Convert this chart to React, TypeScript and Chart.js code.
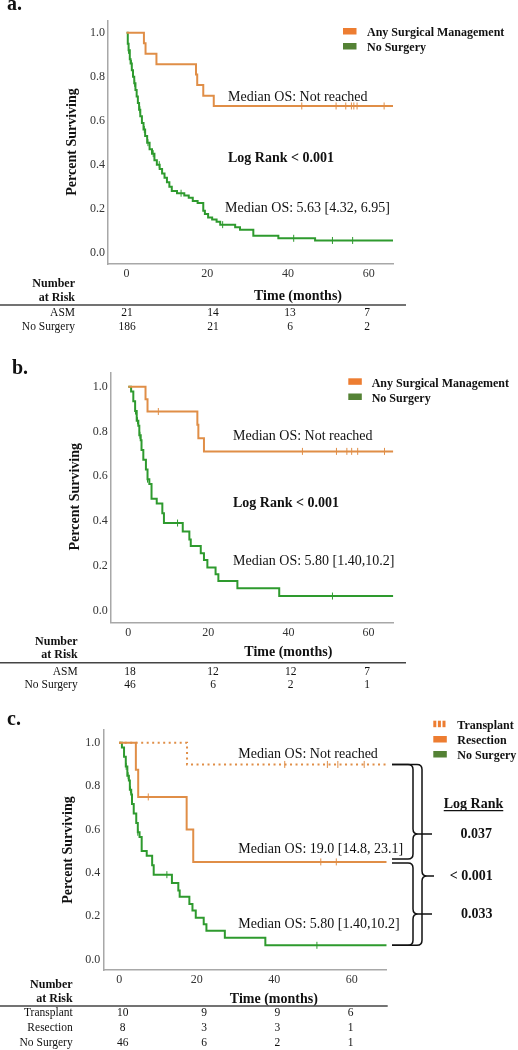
import React, { useEffect, useRef } from 'react';
import { Chart, registerables } from 'chart.js';

Chart.register(...registerables);

const FONT = "'Liberation Serif', 'Times New Roman', Times, serif";
const ORANGE_LINE = '#E08E47';
const GREEN_LINE = '#2E9A2E';
const ORANGE_KEY = '#ED7D31';
const GREEN_KEY = '#548235';
const AXIS_COLOR = '#a8a8a8';

// ---------- shared ticks ----------
const xTickValues = [0, 20, 40, 60];
const yTickValues = [0, 0.2, 0.4, 0.6, 0.8, 1.0];

// ---------- panel a ----------
const aAsmTimes = [0, 4.3, 4.7, 7.4, 17.2, 17.5, 19.0, 21.6, 66];
const aAsmSurv = [1, 0.952, 0.905, 0.857, 0.81, 0.762, 0.714, 0.667, 0.667];
const aAsmCensor = [43.4, 51.9, 54.3, 55.7, 56.3, 57.1, 63.8];

const aNoSurgTimes = [0, 0.3, 0.5, 0.8, 1.0, 1.3, 1.6, 1.9, 2.2, 2.5, 2.8, 3.1, 3.4, 3.8, 4.2, 4.6, 5.1, 5.7, 6.3, 6.9, 7.5, 8.2, 8.8, 9.4, 10.0, 10.6, 11.2, 12.5, 14.3, 15.4, 16.4, 17.6, 19.0, 19.4, 20.2, 21.2, 22.3, 23.2, 26.9, 28.1, 31.4, 37.6, 46.7, 66];
const aNoSurgSurv = [1, 0.95, 0.92, 0.88, 0.86, 0.83, 0.8, 0.77, 0.74, 0.71, 0.68, 0.65, 0.62, 0.59, 0.56, 0.53, 0.5, 0.47, 0.45, 0.42, 0.4, 0.38, 0.36, 0.34, 0.32, 0.3, 0.28, 0.27, 0.26, 0.25, 0.235, 0.225, 0.19, 0.175, 0.16, 0.15, 0.14, 0.127, 0.115, 0.104, 0.076, 0.065, 0.055, 0.055];
const aNoSurgCensor = [0.5, 1.2, 2.0, 3.3, 4.4, 5.3, 6.6, 8.1, 13.5, 23.8, 41.4, 51, 56];

const aRiskAsm = [21, 14, 13, 7];
const aRiskNoSurg = [186, 21, 6, 2];

// ---------- panel b ----------
const bAsmTimes = [0, 4.3, 4.8, 17.25, 17.5, 18.9, 66.2];
const bAsmSurv = [1, 0.944, 0.889, 0.83, 0.77, 0.711, 0.711];
const bAsmCensor = [7.5, 43.5, 52, 54.6, 55.8, 57.3, 64];

const noSurgTimes = [0, 0.7, 1.25, 1.7, 2.1, 2.5, 2.75, 3.1, 3.3, 3.75, 4.4, 4.8, 5.25, 5.8, 7.1, 8.5, 8.9, 13.6, 15.25, 15.6, 18.1, 18.9, 19.75, 21.8, 22.5, 27.25, 37.7];
const noSurgSurv = [1, 0.978, 0.935, 0.891, 0.848, 0.826, 0.783, 0.761, 0.717, 0.674, 0.63, 0.587, 0.565, 0.5, 0.478, 0.435, 0.391, 0.353, 0.318, 0.289, 0.256, 0.226, 0.192, 0.162, 0.132, 0.1, 0.065];
const noSurgCensor = [1.8, 2.3, 2.9, 4.8, 12.3, 51];

const bRiskAsm = [18, 12, 12, 7];
const bRiskNoSurg = [46, 6, 2, 1];

// ---------- panel c ----------
const cTransTimes = [0, 17.5, 69];
const cTransSurv = [1, 0.9, 0.9];
const cTransCensor = [42.7, 53.7, 56.4, 63.2];

const cResTimes = [0, 4.3, 4.9, 17.4, 19.1, 69];
const cResSurv = [1, 0.875, 0.75, 0.6, 0.45, 0.45];
const cResCensor = [7.5, 52, 56];

const cRiskTrans = [10, 9, 9, 6];
const cRiskRes = [8, 3, 3, 1];
const cRiskNoSurg = [46, 6, 2, 1];

const logRankC = ['0.037', '< 0.001', '0.033'];

// ---------- helpers ----------
function survAt(times: number[], surv: number[], t: number) {
  let s = surv[0];
  for (let i = 0; i < times.length; i++) if (times[i] <= t) s = surv[i];
  return s;
}

function curve(times: number[], surv: number[], color: string, dash?: number[]) {
  return {
    type: 'line',
    data: times.map((t, i) => ({ x: t, y: surv[i] })),
    stepped: true,
    borderColor: color,
    borderWidth: 2,
    borderDash: dash || [],
    borderCapStyle: 'butt',
    pointRadius: 0,
    fill: false,
  };
}

function censor(times: number[], surv: number[], ct: number[], color: string) {
  return {
    type: 'scatter',
    data: ct.map((t) => ({ x: t, y: survAt(times, surv, t) })),
    showLine: false,
    pointStyle: 'line',
    rotation: 90,
    pointRadius: 3.5,
    borderColor: color,
    backgroundColor: color,
    borderWidth: 1,
  };
}

type Txt = { s: string; x: number; y: number; size: number; bold?: boolean; align?: CanvasTextAlign; rot?: boolean; base?: CanvasTextBaseline; underline?: boolean };

function drawText(ctx: CanvasRenderingContext2D, t: Txt) {
  ctx.save();
  ctx.font = `${t.bold ? 'bold ' : ''}${t.size}px ${FONT}`;
  ctx.fillStyle = '#111';
  ctx.textAlign = t.align || 'left';
  ctx.textBaseline = t.base || 'middle';
  if (t.rot) {
    ctx.translate(t.x, t.y);
    ctx.rotate(-Math.PI / 2);
    ctx.textAlign = 'center';
    ctx.fillText(t.s, 0, 0);
  } else {
    ctx.fillText(t.s, t.x, t.y);
    if (t.underline) {
      const w = ctx.measureText(t.s).width;
      const x0 = t.align === 'center' ? t.x - w / 2 : t.x;
      ctx.strokeStyle = '#111';
      ctx.lineWidth = 1.2;
      ctx.beginPath();
      ctx.moveTo(x0, t.y + t.size * 0.45);
      ctx.lineTo(x0 + w, t.y + t.size * 0.45);
      ctx.stroke();
    }
  }
  ctx.restore();
}

function drawBrace(ctx: CanvasRenderingContext2D, x0: number, xv: number, xt: number, yTop: number, yBot: number, yTip: number) {
  const r = 5;
  ctx.beginPath();
  ctx.moveTo(x0, yTop);
  ctx.lineTo(xv - r, yTop);
  ctx.quadraticCurveTo(xv, yTop, xv, yTop + r);
  ctx.lineTo(xv, yTip - r);
  ctx.quadraticCurveTo(xv, yTip, xv + r, yTip);
  ctx.lineTo(xt, yTip);
  ctx.moveTo(xv + r, yTip);
  ctx.quadraticCurveTo(xv, yTip, xv, yTip + r);
  ctx.lineTo(xv, yBot - r);
  ctx.quadraticCurveTo(xv, yBot, xv - r, yBot);
  ctx.lineTo(x0, yBot);
  ctx.stroke();
}

type Legend = { label: string; color: string; dotted?: boolean; x: number; y: number; tx: number; ty: number };
type RiskRow = { label: string; values: number[]; y: number };

type PanelCfg = {
  top: number;
  height: number;
  area: { l: number; t: number; r: number; b: number };
  xMin: number;
  xMax: number;
  yMin: number;
  yMax: number;
  datasets: any[];
  texts: Txt[];
  legends: Legend[];
  riskCols: number[];
  riskLabelX: number;
  rows: RiskRow[];
  sepY: number;
  sepX: number;
  braces?: (ctx: CanvasRenderingContext2D, chart: any) => void;
};

function buildConfig(p: PanelCfg): any {
  const overlay = {
    id: 'overlay',
    afterDraw(chart: any) {
      const ctx: CanvasRenderingContext2D = chart.ctx;
      ctx.save();
      ctx.translate(0, -p.top);
      p.texts.forEach((t) => drawText(ctx, t));
      p.legends.forEach((lg) => {
        ctx.fillStyle = lg.color;
        if (lg.dotted) {
          for (let k = 0; k < 3; k++) ctx.fillRect(lg.x + k * 4.6, lg.y, 3, 6.5);
        } else {
          ctx.fillRect(lg.x, lg.y, 13.5, 6.5);
        }
        drawText(ctx, { s: lg.label, x: lg.tx, y: lg.ty, size: 12, bold: true });
      });
      drawText(ctx, { s: 'Number', x: p.riskLabelX, y: p.sepY - 20.7, size: 12, bold: true, align: 'right' });
      drawText(ctx, { s: 'at Risk', x: p.riskLabelX, y: p.sepY - 7.3, size: 12, bold: true, align: 'right' });
      ctx.strokeStyle = '#444';
      ctx.lineWidth = 1.5;
      ctx.beginPath();
      ctx.moveTo(0, p.sepY);
      ctx.lineTo(p.sepX, p.sepY);
      ctx.stroke();
      p.rows.forEach((row) => {
        drawText(ctx, { s: row.label, x: p.riskLabelX, y: row.y, size: 11.5, align: 'right' });
        row.values.forEach((v, i) => drawText(ctx, { s: String(v), x: p.riskCols[i], y: row.y, size: 11.5, align: 'center' }));
      });
      if (p.braces) {
        ctx.strokeStyle = '#111';
        ctx.lineWidth = 1.5;
        p.braces(ctx, chart);
      }
      ctx.restore();
    },
  };

  return {
    type: 'line',
    data: { datasets: p.datasets },
    options: {
      responsive: false,
      animation: false,
      devicePixelRatio: 1,
      layout: {
        padding: {
          left: p.area.l - 30,
          top: p.area.t - p.top,
          right: 518 - p.area.r,
          bottom: p.top + p.height - p.area.b - 20,
        },
      },
      plugins: { legend: { display: false }, tooltip: { enabled: false }, title: { display: false } },
      scales: {
        x: {
          type: 'linear',
          min: p.xMin,
          max: p.xMax,
          grid: { display: false, drawTicks: false },
          border: { display: true, color: AXIS_COLOR, width: 1.5 },
          ticks: { font: { family: FONT, size: 12 }, color: '#333', padding: 3, callback: (v: any) => String(v) },
          afterFit: (s: any) => { s.height = 20; },
          afterBuildTicks: (s: any) => { s.ticks = xTickValues.map((v) => ({ value: v })); },
        },
        y: {
          type: 'linear',
          min: p.yMin,
          max: p.yMax,
          grid: { display: false, drawTicks: false },
          border: { display: true, color: AXIS_COLOR, width: 1.5 },
          ticks: { font: { family: FONT, size: 12 }, color: '#333', padding: 3, callback: (v: any) => Number(v).toFixed(1) },
          afterFit: (s: any) => { s.width = 30; },
          afterBuildTicks: (s: any) => { s.ticks = yTickValues.map((v) => ({ value: v })); },
        },
      },
    },
    plugins: [overlay],
  };
}

const panelA: PanelCfg = {
  top: 0,
  height: 340,
  area: { l: 108, t: 20.7, r: 393, b: 264 },
  xMin: -4.6,
  xMax: 66,
  yMin: -0.052,
  yMax: 1.055,
  datasets: [
    curve(aAsmTimes, aAsmSurv, ORANGE_LINE),
    curve(aNoSurgTimes, aNoSurgSurv, GREEN_LINE),
    censor(aAsmTimes, aAsmSurv, aAsmCensor, ORANGE_LINE),
    censor(aNoSurgTimes, aNoSurgSurv, aNoSurgCensor, GREEN_LINE),
  ],
  texts: [
    { s: 'a.', x: 7, y: 10, size: 20, bold: true, base: 'alphabetic' },
    { s: 'Percent Surviving', x: 72, y: 142, size: 14, bold: true, rot: true },
    { s: 'Median OS: Not reached', x: 228, y: 97, size: 14 },
    { s: 'Log Rank < 0.001', x: 228, y: 158, size: 14, bold: true },
    { s: 'Median OS: 5.63 [4.32, 6.95]', x: 225, y: 208, size: 14 },
    { s: 'Time (months)', x: 298, y: 296, size: 14, bold: true, align: 'center' },
  ],
  legends: [
    { label: 'Any Surgical Management', color: ORANGE_KEY, x: 343, y: 28, tx: 367, ty: 33.3 },
    { label: 'No Surgery', color: GREEN_KEY, x: 343, y: 43, tx: 367, ty: 48.3 },
  ],
  riskCols: [127, 213, 290, 367],
  riskLabelX: 75,
  rows: [
    { label: 'ASM', values: aRiskAsm, y: 313.3 },
    { label: 'No Surgery', values: aRiskNoSurg, y: 327 },
  ],
  sepY: 305,
  sepX: 406,
};

const panelB: PanelCfg = {
  top: 340,
  height: 355,
  area: { l: 110.7, t: 373, r: 393.3, b: 622.7 },
  xMin: -4.4,
  xMax: 66.2,
  yMin: -0.054,
  yMax: 1.061,
  datasets: [
    curve(bAsmTimes, bAsmSurv, ORANGE_LINE),
    curve([...noSurgTimes, 66.2], [...noSurgSurv, 0.065], GREEN_LINE),
    censor(bAsmTimes, bAsmSurv, bAsmCensor, ORANGE_LINE),
    censor(noSurgTimes, noSurgSurv, noSurgCensor, GREEN_LINE),
  ],
  texts: [
    { s: 'b.', x: 12, y: 374, size: 20, bold: true, base: 'alphabetic' },
    { s: 'Percent Surviving', x: 75, y: 496.7, size: 14, bold: true, rot: true },
    { s: 'Median OS: Not reached', x: 233, y: 436.7, size: 14 },
    { s: 'Log Rank < 0.001', x: 233, y: 503, size: 14, bold: true },
    { s: 'Median OS: 5.80 [1.40,10.2]', x: 233, y: 561.7, size: 14 },
    { s: 'Time (months)', x: 288.3, y: 652.7, size: 14, bold: true, align: 'center' },
  ],
  legends: [
    { label: 'Any Surgical Management', color: ORANGE_KEY, x: 348.3, y: 378.3, tx: 371.7, ty: 384 },
    { label: 'No Surgery', color: GREEN_KEY, x: 348.3, y: 393.5, tx: 371.7, ty: 399 },
  ],
  riskCols: [130, 213, 290.7, 367],
  riskLabelX: 77.7,
  rows: [
    { label: 'ASM', values: bRiskAsm, y: 671.5 },
    { label: 'No Surgery', values: bRiskNoSurg, y: 685 },
  ],
  sepY: 662.7,
  sepX: 406,
};

const panelC: PanelCfg = {
  top: 695,
  height: 355,
  area: { l: 103.3, t: 730, r: 386.7, b: 970 },
  xMin: -4.1,
  xMax: 69,
  yMin: -0.049,
  yMax: 1.059,
  datasets: [
    curve(cTransTimes, cTransSurv, ORANGE_LINE, [2, 3.5]),
    curve(cResTimes, cResSurv, ORANGE_LINE),
    curve([...noSurgTimes, 69], [...noSurgSurv, 0.065], GREEN_LINE),
    censor(cTransTimes, cTransSurv, cTransCensor, ORANGE_LINE),
    censor(cResTimes, cResSurv, cResCensor, ORANGE_LINE),
    censor(noSurgTimes, noSurgSurv, noSurgCensor, GREEN_LINE),
  ],
  texts: [
    { s: 'c.', x: 7, y: 725, size: 20, bold: true, base: 'alphabetic' },
    { s: 'Percent Surviving', x: 68.3, y: 850, size: 14, bold: true, rot: true },
    { s: 'Median OS: Not reached', x: 238.3, y: 754.3, size: 14 },
    { s: 'Median OS: 19.0 [14.8, 23.1]', x: 238.3, y: 849, size: 14 },
    { s: 'Median OS: 5.80 [1.40,10.2]', x: 238.3, y: 924, size: 14 },
    { s: 'Time (months)', x: 273.8, y: 999.3, size: 14, bold: true, align: 'center' },
    { s: 'Log Rank', x: 473.5, y: 804.3, size: 14, bold: true, align: 'center', underline: true },
    { s: logRankC[0], x: 476.3, y: 834, size: 14, bold: true, align: 'center' },
    { s: logRankC[1], x: 471.3, y: 876, size: 14, bold: true, align: 'center' },
    { s: logRankC[2], x: 476.7, y: 914.3, size: 14, bold: true, align: 'center' },
  ],
  legends: [
    { label: 'Transplant', color: ORANGE_KEY, dotted: true, x: 433.3, y: 720.7, tx: 457.3, ty: 725.7 },
    { label: 'Resection', color: ORANGE_KEY, x: 433.3, y: 736, tx: 457.3, ty: 740.7 },
    { label: 'No Surgery', color: GREEN_KEY, x: 433.3, y: 751, tx: 457.3, ty: 755.7 },
  ],
  riskCols: [122.7, 204, 277.3, 350.7],
  riskLabelX: 72.7,
  rows: [
    { label: 'Transplant', values: cRiskTrans, y: 1013.3 },
    { label: 'Resection', values: cRiskRes, y: 1028.3 },
    { label: 'No Surgery', values: cRiskNoSurg, y: 1043.3 },
  ],
  sepY: 1006,
  sepX: 387.7,
  braces: (ctx, chart) => {
    const ys = chart.scales.y;
    const off = 695;
    const yT = ys.getPixelForValue(cTransSurv[cTransSurv.length - 1]) + off;
    const yR = ys.getPixelForValue(cResSurv[cResSurv.length - 1]) + off;
    const yN = ys.getPixelForValue(noSurgSurv[noSurgSurv.length - 1]) + off;
    drawBrace(ctx, 392, 413, 432, yT, yR - 3, 834);
    drawBrace(ctx, 392, 413, 432, yR + 1, yN, 914);
    drawBrace(ctx, 392, 422, 434, yT, yN, 876);
  },
};

function Panel({ cfg }: { cfg: PanelCfg }) {
  const ref = useRef<HTMLCanvasElement>(null);
  useEffect(() => {
    const chart = new Chart(ref.current as HTMLCanvasElement, buildConfig(cfg));
    return () => chart.destroy();
  }, [cfg]);
  return (
    <canvas
      ref={ref}
      width={518}
      height={cfg.height}
      style={{ position: 'absolute', left: 0, top: cfg.top, width: 518, height: cfg.height }}
    />
  );
}

export default function App() {
  return (
    <div style={{ position: 'absolute', left: 0, top: 0, width: 518, height: 1050, background: '#fff', overflow: 'hidden' }}>
      <Panel cfg={panelA} />
      <Panel cfg={panelB} />
      <Panel cfg={panelC} />
    </div>
  );
}
